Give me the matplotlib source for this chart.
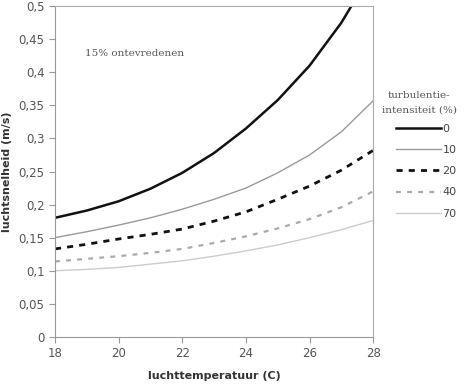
import matplotlib.pyplot as plt
from matplotlib.ticker import FuncFormatter

temperature = [18, 19, 20, 21, 22, 23, 24, 25, 26, 27, 28]
v_ti0 = [0.180, 0.191, 0.205, 0.224, 0.248, 0.278, 0.315, 0.358, 0.410, 0.475, 0.555]
v_ti10 = [0.150, 0.159, 0.169, 0.180, 0.193, 0.208, 0.225, 0.248, 0.275, 0.310, 0.357]
v_ti20 = [0.133, 0.140, 0.148, 0.155, 0.163, 0.175, 0.189, 0.208, 0.228, 0.252, 0.282]
v_ti40 = [0.114, 0.118, 0.122, 0.127, 0.133, 0.142, 0.152, 0.164, 0.178, 0.196, 0.220]
v_ti70 = [0.100, 0.102, 0.105, 0.110, 0.115, 0.122, 0.130, 0.139, 0.150, 0.162, 0.176]
labels = ["0", "10", "20", "40", "70"]

fig = plt.figure(figsize=(4.7, 3.85), dpi=100)
ax = fig.add_axes([0.117, 0.125, 0.677, 0.859])

styles = [
    dict(color="#111111", lw=1.8, ls="-"),
    dict(color="#9a9a9a", lw=1.0, ls="-"),
    dict(color="#111111", lw=2.0, ls=(0, (2.2, 2.2))),
    dict(color="#aaaaaa", lw=1.6, ls=(0, (2.2, 2.8))),
    dict(color="#cccccc", lw=1.0, ls="-"),
]
for series, lab, st in zip([v_ti0, v_ti10, v_ti20, v_ti40, v_ti70], labels, styles):
    ax.plot(temperature, series, label=lab, **st)

ax.set_xlim(18, 28)
ax.set_ylim(0, 0.5)
ax.set_xticks(range(18, 29, 2))
ax.set_yticks([i * 0.05 for i in range(11)])
ax.yaxis.set_major_formatter(FuncFormatter(lambda v, p: ("%g" % round(v, 2)).replace(".", ",")))

for s in ax.spines.values():
    s.set_color("#999999")
    s.set_linewidth(0.8)
ax.spines["top"].set_color("#aaaaaa")
ax.spines["right"].set_color("#aaaaaa")
ax.tick_params(direction="out", length=4, width=0.8, color="#999999",
               labelsize=8.5, labelcolor="#555555")

ax.set_xlabel("luchttemperatuur (C)", fontsize=8, fontweight="bold", color="#333333", labelpad=8)
ax.set_ylabel("luchtsnelheid (m/s)", fontsize=8, fontweight="bold", color="#333333")
ax.yaxis.set_label_coords(-0.135, 0.5)

ax.text(18.95, 0.429, "15% ontevredenen", fontsize=7.5, color="#555555",
        family="DejaVu Serif", va="center")

# legend title drawn as separate text so it can sit left of the handles
fig.text(388 / 470, 1 - 95 / 385, "turbulentie-", fontsize=7.5, color="#555555",
         family="DejaVu Serif", va="center")
fig.text(382 / 470, 1 - 110 / 385, "intensiteit (%)", fontsize=7.5, color="#555555",
         family="DejaVu Serif", va="center")

leg = ax.legend(loc="upper left", bbox_to_anchor=(1.048, 0.667), frameon=False,
                fontsize=8, handlelength=4.0, handletextpad=0.15,
                labelspacing=1.0, borderpad=0.2)
for t in leg.get_texts():
    t.set_color("#444444")

fig.savefig("out.png", dpi=100)
